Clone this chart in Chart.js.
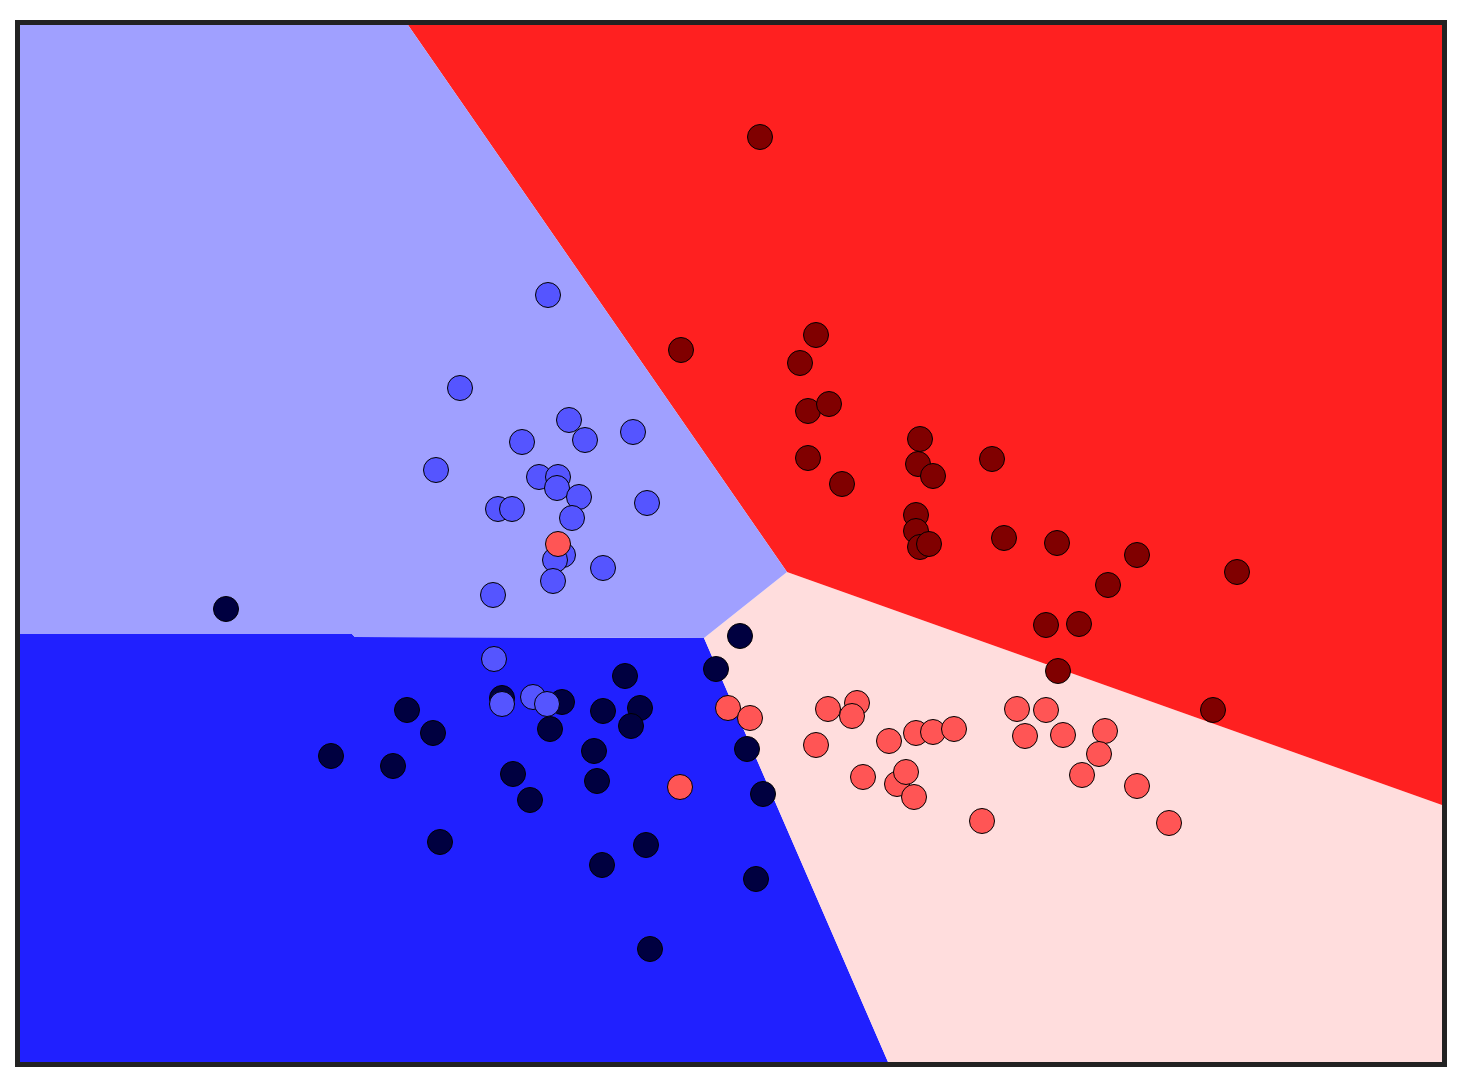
<!DOCTYPE html>
<html lang="en">
<head>
    <meta charset="UTF-8">
    <title>Decision regions</title>
    <style>
        html, body {
            margin: 0;
            padding: 0;
            background-color: #ffffff;
        }
        #chartBox {
            width: 1466px;
            height: 1089px;
        }
    </style>
    <script src="https://cdn.jsdelivr.net/npm/chart.js"></script>
</head>
<body>
    <div id="chartBox">
        <canvas id="regionChart"></canvas>
    </div>

    <script>
        // plot range (same units as the data below)
        const xRange = [20, 1442];
        const yRange = [25, 1062];

        // decision regions, polygon corners
        const regionLightBlueX = [20, 408, 787, 704, 355, 352, 20];
        const regionLightBlueY = [25, 25, 572, 638, 637, 634, 634];
        const regionRedX = [408, 1442, 1442, 787];
        const regionRedY = [25, 25, 805, 572];
        const regionPinkX = [787, 1442, 1442, 888, 704];
        const regionPinkY = [572, 805, 1062, 1062, 638];
        const regionBlueX = [20, 352, 355, 704, 888, 20];
        const regionBlueY = [634, 634, 637, 638, 1062, 1062];

        // class 0 (navy)
        const navyX = [226, 740, 716, 625, 502, 562, 407, 603, 640, 433, 550, 631, 331, 393, 594, 747, 513, 597, 763, 530, 440, 646, 602, 756, 650];
        const navyY = [609, 636, 669, 676, 698, 702, 710, 711, 708, 733, 729, 726, 756, 766, 751, 749, 774, 781, 794, 800, 842, 845, 865, 879, 949];

        // class 1 (dark red)
        const darkRedX = [760, 681, 816, 800, 808, 829, 920, 808, 918, 933, 992, 842, 916, 916, 920, 929, 1004, 1057, 1137, 1237, 1108, 1046, 1079, 1058, 1213];
        const darkRedY = [137, 350, 335, 363, 411, 404, 439, 458, 464, 476, 459, 484, 515, 531, 547, 544, 538, 543, 555, 572, 585, 625, 624, 671, 710];

        // class 2 (blue)
        const blueX = [548, 460, 569, 585, 633, 522, 436, 539, 558, 557, 579, 647, 498, 512, 572, 563, 555, 553, 603, 493, 494, 502, 533, 547];
        const blueY = [295, 388, 420, 440, 432, 442, 470, 477, 477, 488, 497, 503, 509, 509, 518, 555, 560, 581, 568, 595, 659, 704, 697, 704];

        // class 3 (salmon)
        const salmonX = [558, 728, 750, 680, 828, 857, 852, 816, 889, 916, 933, 954, 863, 897, 906, 914, 982, 1017, 1046, 1025, 1063, 1105, 1099, 1082, 1137, 1169];
        const salmonY = [544, 708, 718, 787, 709, 703, 716, 745, 741, 733, 732, 729, 777, 784, 772, 797, 821, 709, 710, 736, 735, 731, 754, 775, 786, 823];

        function toPoints(xs, ys) {
            return xs.map((x, i) => ({ x: x, y: ys[i] }));
        }

        function regionSet(xs, ys, color) {
            return {
                type: 'line',
                data: toPoints(xs, ys),
                backgroundColor: color,
                borderWidth: 0,
                pointRadius: 0,
                fill: 'shape',
                tension: 0,
                order: 10
            };
        }

        function pointSet(xs, ys, color, order) {
            return {
                type: 'scatter',
                data: toPoints(xs, ys),
                backgroundColor: color,
                borderColor: '#000000',
                borderWidth: 1,
                pointRadius: 12.5,
                pointHoverRadius: 12.5,
                order: order
            };
        }

        // dark frame round the plot area
        const framePlugin = {
            id: 'frame',
            afterDraw(chart) {
                const a = chart.chartArea;
                const ctx = chart.ctx;
                ctx.save();
                ctx.strokeStyle = '#222222';
                ctx.lineWidth = 5;
                ctx.strokeRect(a.left - 2.5, a.top - 2.5, a.right - a.left + 5, a.bottom - a.top + 5);
                ctx.restore();
            }
        };

        const ctx = document.getElementById('regionChart').getContext('2d');
        new Chart(ctx, {
            type: 'scatter',
            data: {
                datasets: [
                    regionSet(regionLightBlueX, regionLightBlueY, '#a0a0ff'),
                    regionSet(regionRedX, regionRedY, '#ff2020'),
                    regionSet(regionPinkX, regionPinkY, '#ffdddd'),
                    regionSet(regionBlueX, regionBlueY, '#2020ff'),
                    pointSet(navyX, navyY, '#000040', 4),
                    pointSet(darkRedX, darkRedY, '#800000', 3),
                    pointSet(blueX, blueY, '#5555ff', 2),
                    pointSet(salmonX, salmonY, '#ff5555', 1)
                ]
            },
            options: {
                responsive: true,
                maintainAspectRatio: false,
                animation: false,
                events: [],
                layout: {
                    padding: { left: 20, top: 25, right: 24, bottom: 27 }
                },
                scales: {
                    x: { type: 'linear', min: xRange[0], max: xRange[1], display: false },
                    y: { type: 'linear', min: yRange[0], max: yRange[1], reverse: true, display: false }
                },
                plugins: {
                    legend: { display: false },
                    tooltip: { enabled: false }
                }
            },
            plugins: [framePlugin]
        });
    </script>
</body>
</html>
